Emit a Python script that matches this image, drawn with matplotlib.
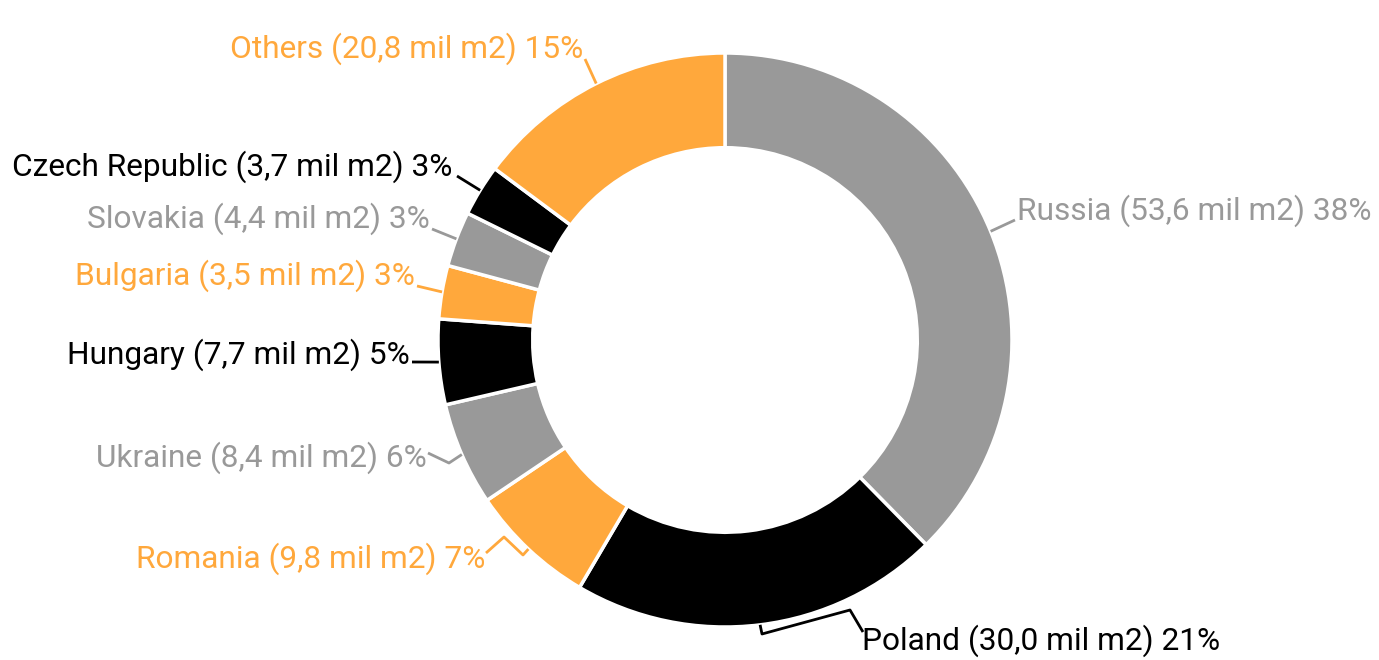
import numpy as np
import matplotlib
matplotlib.use("Agg")
import matplotlib.pyplot as plt

plt.rcParams['font.family'] = ['Roboto', 'DejaVu Sans']

countries = ["Russia", "Poland", "Romania", "Ukraine", "Hungary",
             "Bulgaria", "Slovakia", "Czech Republic", "Others"]
# values printed in the labels
area_mil_m2 = [53.6, 30.0, 9.8, 8.4, 7.7, 3.5, 4.4, 3.7, 20.8]
pct_labels = ["38%", "21%", "7%", "6%", "5%", "3%", "3%", "3%", "15%"]
# slice shares as drawn (%)
slice_share = [37.6, 20.8, 7.1, 5.8, 4.8, 3.0, 3.1, 2.9, 14.8]

GRAY = "#999999"
ORANGE = "#FFA83C"
BLACK = "#000000"
colors = [GRAY, BLACK, ORANGE, GRAY, BLACK, ORANGE, GRAY, BLACK, ORANGE]

# label anchor (pixels, y from top) and alignment
label_pos = [(1017, 211, "left"), (862, 641, "left"), (485, 559, "right"),
             (427, 458, "right"), (410, 355, "right"), (415, 276, "right"),
             (430, 219, "right"), (452, 167, "right"), (583, 49, "right")]
# leader line points after the slice edge (pixels, y from top)
leaders = [[(1015, 220)],
           [(762, 634), (850, 610), (863, 632)],
           [(523, 555), (504, 537), (486, 553)],
           [(449, 463), (428, 453)],
           [(412, 362)],
           [(417, 286)],
           [(432, 229)],
           [(457, 176)],
           [(585, 59)]]

W, H = 1379, 660
cx, cy, R = 725, 320, 287

fig = plt.figure(figsize=(W / 100, H / 100), dpi=100)
ax = fig.add_axes([0, 0, 1, 1])

wedges, _ = ax.pie(slice_share, colors=colors, startangle=90, counterclock=False,
                   center=(cx, cy), radius=R,
                   wedgeprops=dict(width=R * 0.33, edgecolor='white', linewidth=2.5))
ax.set_xlim(0, W)
ax.set_ylim(0, H)
ax.set_aspect('equal')
ax.axis('off')

for i, w in enumerate(wedges):
    ang = np.deg2rad((w.theta1 + w.theta2) / 2)
    sx = cx + R * np.cos(ang)
    sy = cy + R * np.sin(ang)
    lx, ly, ha = label_pos[i]
    col = colors[i]
    val = ("%.1f" % area_mil_m2[i]).replace(".", ",")
    txt = "{} ({} mil m2) {}".format(countries[i], val, pct_labels[i])
    ax.text(lx, H - ly, txt, ha=ha, va='center', fontsize=22.8, color=col)
    xs = [sx] + [p[0] for p in leaders[i]]
    ys = [sy] + [H - p[1] for p in leaders[i]]
    ax.plot(xs, ys, color=col, lw=2, solid_capstyle='butt')

fig.savefig("out.png", dpi=100)
